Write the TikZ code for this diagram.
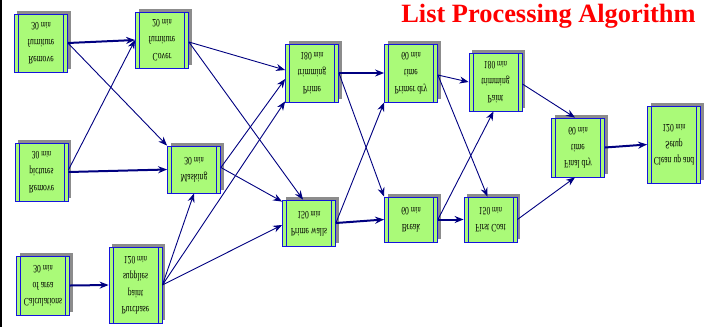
\documentclass[tikz,border=0pt]{standalone}
\usepackage{fontspec}
\setmainfont{Liberation Serif}
\usepackage{graphicx}
\usetikzlibrary{arrows.meta,shadows}
\definecolor{taskgreen}{RGB}{170,250,120}
\definecolor{taskblue}{RGB}{20,20,220}
\definecolor{linknavy}{RGB}{0,0,128}
\newcommand{\flipped}[1]{\scalebox{0.85}[-1.25]{\begin{tabular}{@{}c@{}}#1\end{tabular}}}
\newcommand{\mins}{{\fontsize{7.5}{8}\selectfont min}}

\begin{document}
\begin{tikzpicture}[x=1bp,y=-1bp,
        task/.style={draw=taskblue, line width=0.8bp, fill=taskgreen,
            minimum width=53bp, inner sep=0pt, font=\fontsize{9}{13.5}\selectfont,
            drop shadow={shadow xshift=3bp,shadow yshift=3bp,fill=black!45,opacity=1},
            path picture={\draw[taskblue,line width=0.6bp]
                ([xshift=4bp]path picture bounding box.north west) -- ([xshift=4bp]path picture bounding box.south west)
                ([xshift=-4bp]path picture bounding box.north east) -- ([xshift=-4bp]path picture bounding box.south east);}},
        link/.style={draw=linknavy, line width=0.9bp, -{Stealth[length=9bp,width=7bp]}},
        mainlink/.style={link, line width=2bp}
    ]
    \useasboundingbox (0,0) rectangle (710,327);
    \fill (0,0) rectangle (2,327);
    \node[text=red, font=\fontsize{26.5}{30}\selectfont\bfseries] (title) at (548.5,16) {List Processing Algorithm};

    \node[task, minimum height=58bp] (rfurn) at (41,43) {\flipped{Remove\\furniture\\30 \mins}};
    \node[task, minimum height=56bp] (cover) at (162,40) {\flipped{Cover\\furniture\\20 \mins}};
    \node[task, minimum height=58bp] (rpic) at (41.5,172) {\flipped{Remove\\pictures\\30 \mins}};
    \node[task, minimum height=47bp] (mask) at (194,169.5) {\flipped{Masking\\30 \mins}};
    \node[task, minimum height=59bp] (calc) at (43,285.5) {\flipped{Calculations\\of area\\30 \mins}};
    \node[task, minimum height=76bp] (purch) at (135.5,285) {\flipped{Purchase\\paint\\supplies\\120 \mins}};
    \node[task, minimum height=58bp] (ptrim) at (312,73) {\flipped{Prime\\trimming\\180 \mins}};
    \node[task, minimum height=46bp] (pwalls) at (309,223) {\flipped{Prime walls\\150 \mins}};
    \node[task, minimum height=58bp] (pdry) at (411,73) {\flipped{Primer dry\\time\\60 \mins}};
    \node[task, minimum height=45bp] (brk) at (411,219.5) {\flipped{Break\\60 \mins}};
    \node[task, minimum height=58bp] (paint) at (495.5,82) {\flipped{Paint\\trimming\\180 \mins}};
    \node[task, minimum height=45bp] (fcoat) at (490.5,219.5) {\flipped{First Coat\\150 \mins}};
    \node[task, minimum height=59bp] (fdry) at (578,147.5) {\flipped{Final dry\\time\\60 \mins}};
    \node[task, minimum height=77bp] (clean) at (674,144.5) {\flipped{Clean up and\\Setup\\120 \mins}};

    \draw[mainlink] (rfurn.east) -- (cover.west);
    \draw[link] (rfurn.east) -- (mask.north west);
    \draw[link] ([yshift=2bp]rpic.east) -- (cover.west);
    \draw[mainlink] (rpic.east) -- (mask.west);
    \draw[mainlink] (calc.east) -- (purch.west);
    \draw[link] (purch.east) -- (mask.south);
    \draw[link] (purch.east) -- ([yshift=1bp]ptrim.south west);
    \draw[link] (purch.east) -- ([yshift=-2bp]pwalls.west);
    \draw[link] ([yshift=-2bp]cover.east) -- ([yshift=3bp]ptrim.west);
    \draw[link] ([yshift=-2bp]cover.east) -- ([xshift=-6bp]pwalls.north);
    \draw[link] ([yshift=2bp]mask.east) -- ([yshift=-6bp]ptrim.west);
    \draw[link] ([yshift=2bp]mask.east) -- ([yshift=-2bp]pwalls.north west);
    \draw[mainlink] (ptrim.east) -- (pdry.west);
    \draw[link] (ptrim.east) -- (brk.north west);
    \draw[link] (pwalls.east) -- (pdry.south west);
    \draw[mainlink] (pwalls.east) -- (brk.west);
    \draw[link] ([yshift=-2bp]pdry.east) -- (paint.west);
    \draw[link] ([yshift=-2bp]pdry.east) -- ([xshift=-3bp]fcoat.north);
    \draw[link] (brk.east) -- ([xshift=-2bp]paint.south);
    \draw[mainlink] (brk.east) -- (fcoat.west);
    \draw[link] ([yshift=-2bp]paint.east) -- ([xshift=-3bp]fdry.north);
    \draw[link] (fcoat.east) -- ([xshift=-3bp]fdry.south);
    \draw[mainlink] (fdry.east) -- (clean.west);
\end{tikzpicture}
\end{document}
